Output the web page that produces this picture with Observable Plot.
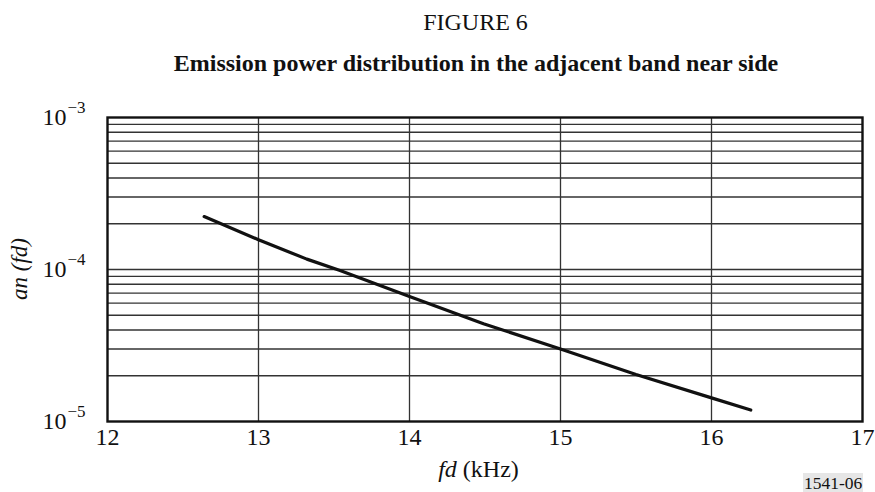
<!DOCTYPE html>
<html>
<head>
<meta charset="utf-8">
<script src="https://cdn.jsdelivr.net/npm/d3@7"></script>
<script src="https://cdn.jsdelivr.net/npm/@observablehq/plot@0.6"></script>
<style>
  body { margin: 0; background: #fff; }
  #wrap { position: relative; width: 875px; height: 492px; font-family: "Liberation Serif", "Times New Roman", serif; color: #111; }
  #wrap svg { position: absolute; left: 0; top: 0; }
  .t { position: absolute; white-space: nowrap; line-height: 1.15; }
</style>
</head>
<body>
<div id="wrap">
  <div class="t" style="left:0;width:951px;top:9px;text-align:center;font-size:24px;">FIGURE 6</div>
  <div class="t" style="left:0;width:952px;top:50px;text-align:center;font-size:24px;font-weight:bold;">Emission power distribution in the adjacent band near side</div>
  <div class="t" style="left:20px;top:269px;transform:translate(-50%,-50%) rotate(-90deg);font-size:23px;font-style:italic;">an (fd)</div>
  <div class="t" style="left:0;width:957px;top:456px;text-align:center;font-size:24px;"><i>fd</i> (kHz)</div>
  <div class="t" style="left:803px;top:473px;font-size:17.5px;background:#e6e6e6;padding:0 1px;">1541-06</div>
</div>
<script>
const fd = [12.64, 13.0, 13.32, 13.54, 14.0, 14.49, 15.0, 15.5, 16.0, 16.26];
const an = [2.23e-4, 1.57e-4, 1.17e-4, 9.85e-5, 6.64e-5, 4.4e-5, 3.0e-5, 2.04e-5, 1.43e-5, 1.19e-5];
const xTicks = [12, 13, 14, 15, 16, 17];
const xGrid = [13, 14, 15, 16];
const decades = [1e-5, 1e-4, 1e-3];
const exponents = ["\u22125", "\u22124", "\u22123"];
const mantissas = [2, 3, 4, 5, 6, 7, 8, 9];

const yGrid = [];
for (const d of [1e-5, 1e-4]) for (const m of mantissas) yGrid.push(m * d);
yGrid.push(1e-4);

const data = fd.map((x, i) => ({x, y: an[i]}));
const dec = decades.map((v, i) => ({v, e: exponents[i]}));

const chart = Plot.plot({
  width: 875,
  height: 492,
  marginTop: 117,
  marginBottom: 71,
  marginLeft: 107,
  marginRight: 13,
  style: {fontFamily: "Liberation Serif, Times New Roman, serif", background: "transparent", color: "#111"},
  x: {domain: [12, 17], axis: null},
  y: {type: "log", domain: [1e-5, 1e-3], axis: null},
  marks: [
    Plot.ruleY(yGrid, {y: d => d, stroke: "#333", strokeWidth: 1.3}),
    Plot.ruleX(xGrid, {x: d => d, stroke: "#333", strokeWidth: 1.3}),
    Plot.frame({stroke: "#111", strokeWidth: 2.4}),
    Plot.line(data, {x: "x", y: "y", stroke: "#111", strokeWidth: 3.2, curve: "linear", strokeLinejoin: "round"}),
    Plot.text(xTicks, {x: d => d, frameAnchor: "bottom", dy: 23, text: d => String(d), fontSize: 24, fill: "#111"}),
    Plot.text(dec, {y: "v", text: () => "10", frameAnchor: "left", textAnchor: "end", dx: -41, dy: 0, fontSize: 24, fill: "#111"}),
    Plot.text(dec, {y: "v", text: "e", frameAnchor: "left", textAnchor: "start", dx: -40, dy: -10, fontSize: 17, fill: "#111"})
  ]
});
document.getElementById("wrap").prepend(chart);
</script>
</body>
</html>
